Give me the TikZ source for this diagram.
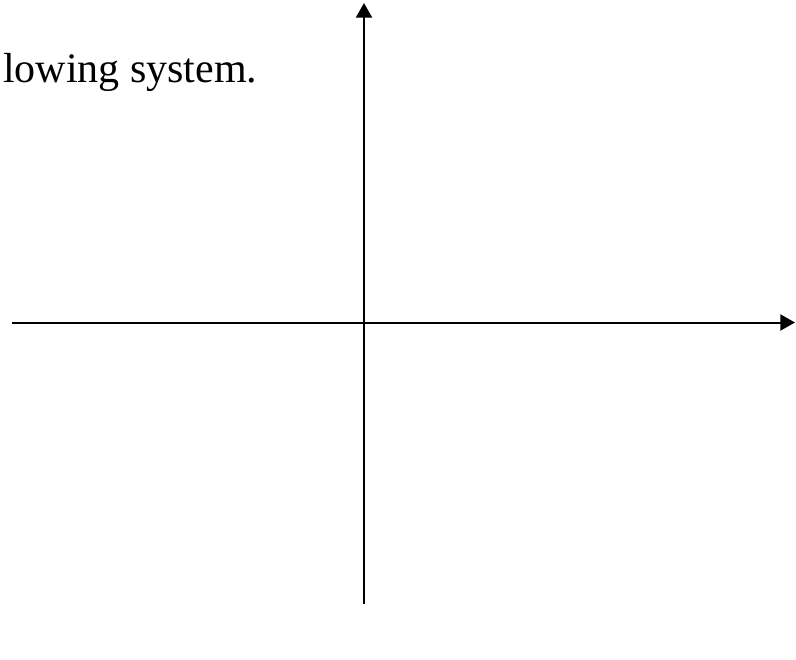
\documentclass[tikz,border=0pt]{standalone}
\usepackage{fontspec}
\setmainfont{Liberation Serif}
\usetikzlibrary{arrows.meta}

\begin{document}
\begin{tikzpicture}[x=0.75pt,y=-0.75pt,>={Triangle[length=11pt,width=12pt]},line width=1.5pt]
 \useasboundingbox (0,0) rectangle (796,660);
 % axes
 \coordinate (xl) at (12,322.5); \coordinate (xr) at (795,322.5);
 \coordinate (yb) at (364,604); \coordinate (yt) at (364,3);
 \draw[->] (xl) -- (xr); \draw[->] (yb) -- (yt);
 \node[anchor=base west,inner sep=0pt,font=\fontsize{31.5}{36}\selectfont] (caption) at (2,83) {lowing system.};
\end{tikzpicture}
\end{document}
